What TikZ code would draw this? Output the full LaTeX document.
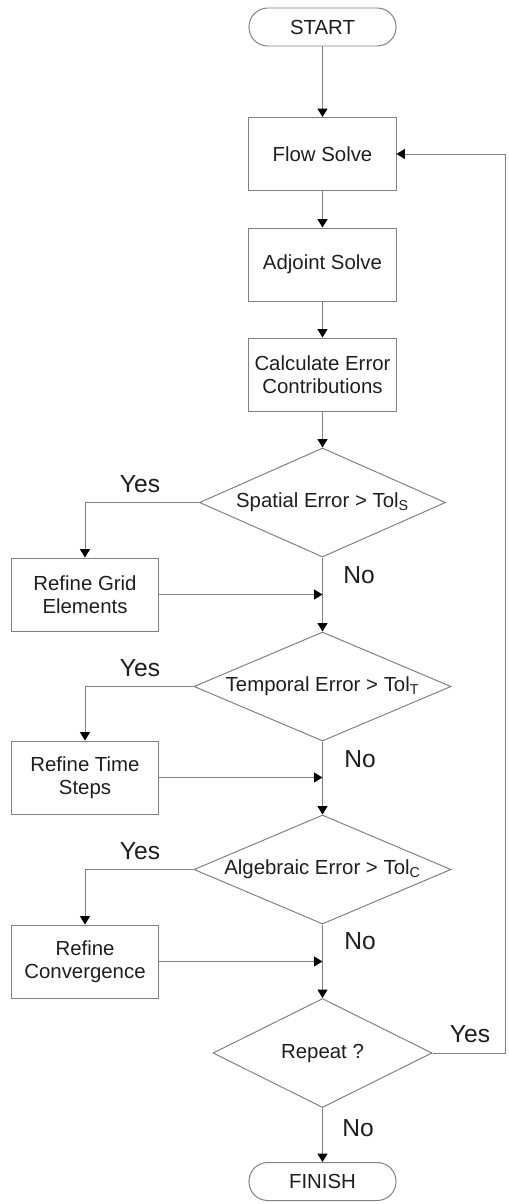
\documentclass[tikz,border=0pt]{standalone}
\usepackage{fontspec}
\setmainfont{Liberation Sans}
\usetikzlibrary{shapes.geometric,arrows.meta}
\definecolor{linegray}{HTML}{808080}
\definecolor{textdark}{HTML}{1E1E1E}

\begin{document}
\begin{tikzpicture}[x=0.025cm,y=-0.025cm,
        every node/.style={text=textdark,font=\fontsize{14.5}{16.5}\selectfont},
        box/.style={draw=linegray,line width=0.7pt,minimum width=3.675cm,minimum height=1.825cm,align=center,inner sep=2pt},
        term/.style={draw=linegray,line width=0.7pt,minimum width=3.675cm,minimum height=0.95cm,rounded corners=0.47cm},
        query/.style={draw=linegray,line width=0.7pt,diamond,aspect=2.3,inner sep=0pt,minimum height=2.725cm},
        lbl/.style={font=\fontsize{17.5}{19}\selectfont},
        link/.style={draw=linegray,line width=0.7pt,-{Triangle[length=0.21cm,width=0.25cm,color=black]}}]
    \useasboundingbox (0,0) rectangle (508,1204);

    % main column
    \node[term] (start) at (322.5,27) {START};
    \node[box] (flow) at (322.5,154) {Flow Solve};
    \node[box] (adjoint) at (322.5,264.5) {Adjoint Solve};
    \node[box] (calc) at (322.5,374.5) {Calculate Error\\Contributions};
    \node[query,minimum width=6.15cm] (spatial) at (322.5,502.5) {Spatial Error > Tol\textsubscript{S}};
    \node[query,minimum width=6.425cm] (temporal) at (322.5,686.5) {Temporal Error > Tol\textsubscript{T}};
    \node[query,minimum width=6.425cm] (algebraic) at (322.5,869.5) {Algebraic Error > Tol\textsubscript{C}};
    \node[query,minimum width=5.475cm] (repeat) at (322.5,1053) {Repeat ?};
    \node[term] (finish) at (322.5,1181.5) {FINISH};

    % refinement column
    \node[box,minimum width=3.65cm] (grid) at (85,594.5) {Refine Grid\\Elements};
    \node[box,minimum width=3.65cm] (steps) at (85,777.5) {Refine Time\\Steps};
    \node[box,minimum width=3.65cm] (conv) at (85,961.5) {Refine\\Convergence};

    \draw[link] (start) -- (flow);
    \draw[link] (flow) -- (adjoint);
    \draw[link] (adjoint) -- (calc);
    \draw[link] (calc) -- (spatial);
    \draw[link] (spatial) -- (temporal);
    \draw[link] (temporal) -- (algebraic);
    \draw[link] (algebraic) -- (repeat);
    \draw[link] (repeat) -- (finish);

    \draw[link] (spatial.west) -| (grid.north);
    \draw[link] (temporal.west) -| (steps.north);
    \draw[link] (algebraic.west) -| (conv.north);
    \draw[link] (grid.east) -- (grid.east -| spatial.south);
    \draw[link] (steps.east) -- (steps.east -| temporal.south);
    \draw[link] (conv.east) -- (conv.east -| algebraic.south);

    % loop back
    \coordinate (loop) at (505,1053);
    \draw[link] (repeat.east) -- (loop) |- (flow.east);

    \node[lbl] (yes1) at (140,484) {Yes};
    \node[lbl] (no1) at (359,575) {No};
    \node[lbl] (yes2) at (140,668) {Yes};
    \node[lbl] (no2) at (360,759) {No};
    \node[lbl] (yes3) at (140,851) {Yes};
    \node[lbl] (no3) at (360,941) {No};
    \node[lbl] (yes4) at (470,1034) {Yes};
    \node[lbl] (no4) at (358,1128) {No};
\end{tikzpicture}
\end{document}
